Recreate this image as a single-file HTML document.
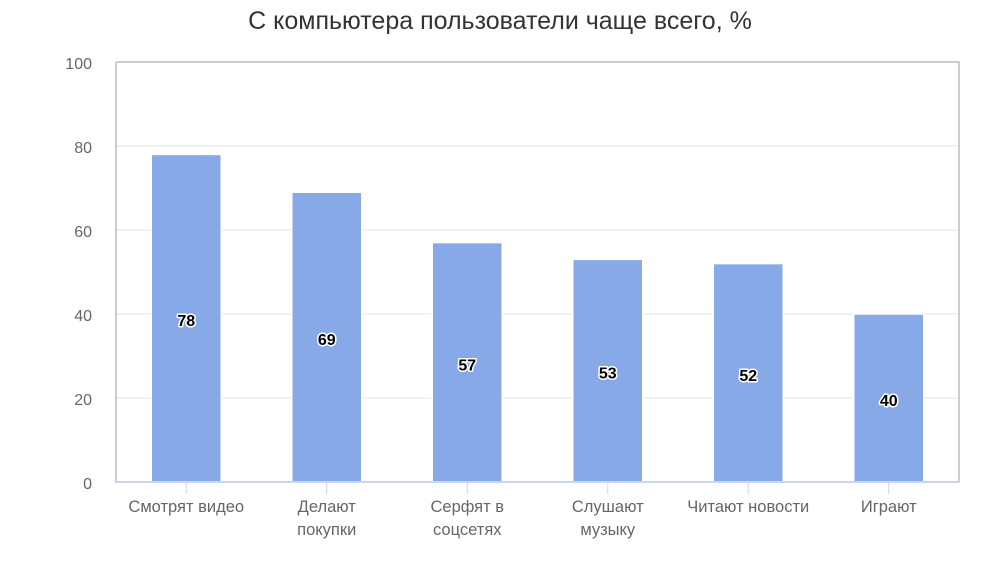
<!DOCTYPE html>
<html><head><meta charset="utf-8">
<style>
body{margin:0;background:#fff;}
svg{display:block;font-family:"Liberation Sans","DejaVu Sans",sans-serif;}
</style></head>
<body>
<svg id="chart" width="1000" height="584">
<text x="500" y="29" text-anchor="middle" font-size="25" fill="#333">С компьютера пользователи чаще всего, %</text>
<g id="grid"></g><g id="bars"></g><g id="labels"></g><g id="axes"></g>
</svg>
<script>
const categories = [["Смотрят видео"],["Делают","покупки"],["Серфят в","соцсетях"],["Слушают","музыку"],["Читают новости"],["Играют"]];
const values = [78,69,57,53,52,40];
const yTicks = [0,20,40,60,80,100];
const L=116,R=959,T=62,B=482;
const ns="http://www.w3.org/2000/svg";
const y=v=>B-(v/100)*(B-T);
const bw=(R-L)/categories.length;
const x=i=>L+bw*(i+0.5);
function mk(t,a,p){const e=document.createElementNS(ns,t);for(const k in a)e.setAttribute(k,a[k]);p.appendChild(e);return e;}
const grid=document.getElementById('grid'),bars=document.getElementById('bars'),labels=document.getElementById('labels'),axes=document.getElementById('axes');
yTicks.forEach(v=>{
  const g=mk('line',{x1:L,x2:R,y1:y(v),y2:y(v),stroke:'#e6e6e6','stroke-width':1},grid);
  
  
  const t=mk('text',{x:92,y:y(v)+7,'text-anchor':'end','font-size':16,fill:'#666'},axes);
  t.textContent=v;
  
  
});
const fr=mk('path',{d:`M${L} ${T}H${R}V${B}`,fill:'none',stroke:'#ccc','stroke-width':2},axes);


const yl=mk('line',{x1:L,x2:L,y1:T,y2:B,stroke:'#ccc','stroke-width':2},axes);


const xl=mk('line',{x1:L-1,x2:R+1,y1:B,y2:B,stroke:'#ccd6eb','stroke-width':2},axes);


values.forEach((v,i)=>{
  const w=70;
  const r=mk('rect',{x:x(i)-w/2,y:y(v),width:w,height:B-y(v),fill:'#88a9e8',stroke:'#fff','stroke-width':1.5},bars);
  
  
  const t=mk('text',{x:x(i),y:(y(v)+B)/2+8,'text-anchor':'middle','font-size':16,'font-weight':'bold',fill:'#000',stroke:'#fff','stroke-width':3,'paint-order':'stroke','stroke-linejoin':'round'},labels);
  t.textContent=v;
  
  
  const tk=mk('line',{x1:x(i),x2:x(i),y1:B,y2:B+12,stroke:'#ccd6eb','stroke-width':1},axes);
  
  
  categories[i].forEach((ln,j)=>{
    const c=mk('text',{x:x(i),y:512+j*23,'text-anchor':'middle','font-size':16.5,fill:'#666'},axes);
    c.textContent=ln;
    
    
  });
});
</script>
</body></html>
